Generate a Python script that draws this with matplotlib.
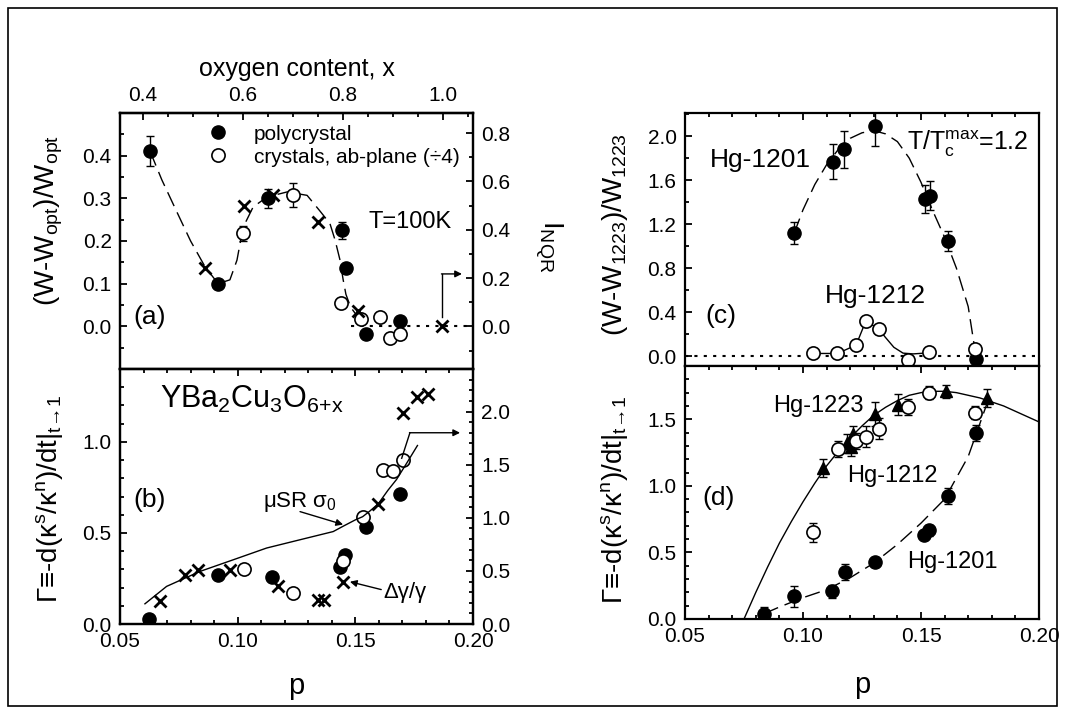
import matplotlib
matplotlib.use('Agg')
import matplotlib.pyplot as plt
from matplotlib.ticker import MultipleLocator, FormatStrFormatter
from matplotlib.lines import Line2D
from matplotlib.patches import Rectangle

plt.rcParams['font.family'] = ['Liberation Sans', 'DejaVu Sans']
plt.rcParams['mathtext.fontset'] = 'custom'
plt.rcParams['mathtext.rm'] = 'Liberation Sans'
plt.rcParams['mathtext.it'] = 'Liberation Sans:italic'
plt.rcParams['mathtext.bf'] = 'Liberation Sans:bold'
plt.rcParams['mathtext.sf'] = 'Liberation Sans'

# ---------------- panel (a) data ----------------
pa_poly = [0.0628, 0.0917, 0.1129, 0.1443, 0.1460, 0.1545, 0.1690]
wa_poly = [0.41, 0.10, 0.30, 0.225, 0.137, -0.018, 0.013]
ea_poly = [0.035, 0.0, 0.022, 0.02, 0.0, 0.0, 0.0]
pa_cry = [0.1023, 0.1235, 0.1439, 0.1523, 0.1605, 0.1648, 0.1690]
wa_cry = [0.218, 0.307, 0.055, 0.017, 0.022, -0.028, -0.018]
ea_cry = [0.018, 0.028, 0.0, 0.0, 0.0, 0.0, 0.0]
pa_nqr = [0.0861, 0.1027, 0.1150, 0.1340, 0.1510, 0.1868]
nqr = [0.24, 0.50, 0.545, 0.43, 0.065, 0.0]
pa_fit = [0.0628, 0.0678, 0.0740, 0.0800, 0.0861, 0.0917, 0.0967, 0.0997, 0.1023,
          0.1066, 0.1125, 0.1210, 0.1295, 0.1350, 0.1392, 0.1414, 0.1435, 0.1448,
          0.1460, 0.1480, 0.1500]
wa_fit = [0.41, 0.343, 0.27, 0.20, 0.14, 0.10, 0.109, 0.155, 0.232,
          0.28, 0.303, 0.315, 0.307, 0.27, 0.241, 0.202, 0.155, 0.11,
          0.075, 0.045, 0.03]
xtop_ticks = [0.4, 0.6, 0.8, 1.0]

# ---------------- panel (b) data ----------------
pb_poly = [0.0625, 0.0918, 0.1145, 0.1435, 0.1456, 0.1544, 0.1690]
gb_poly = [0.027, 0.27, 0.26, 0.315, 0.38, 0.533, 0.716]
pb_cry = [0.1027, 0.1237, 0.1446, 0.1531, 0.1616, 0.1659, 0.1701]
gb_cry = [0.30, 0.17, 0.344, 0.588, 0.848, 0.838, 0.90]
pb_dg = [0.0670, 0.0776, 0.0833, 0.0967, 0.1173, 0.1343, 0.1367, 0.1448,
         0.1597, 0.1701, 0.1764, 0.1808]
dg = [0.213, 0.464, 0.511, 0.511, 0.354, 0.222, 0.222, 0.40,
      1.13, 1.99, 2.14, 2.165]
pb_mu = [0.0606, 0.0698, 0.0840, 0.0982, 0.1123, 0.1265, 0.1406, 0.1448, 0.1500,
         0.1531, 0.1560, 0.1597, 0.1639, 0.1675, 0.1720, 0.1764]
mu = [0.19, 0.354, 0.495, 0.605, 0.715, 0.793, 0.87, 0.92, 0.98,
      1.01, 1.06, 1.13, 1.26, 1.36, 1.52, 1.68]

# ---------------- panel (c) data ----------------
pc_1201 = [0.0963, 0.1126, 0.1174, 0.1305, 0.1517, 0.1538, 0.1616, 0.1735]
wc_1201 = [1.12, 1.766, 1.88, 2.09, 1.427, 1.46, 1.045, -0.027]
ec_1201 = [0.10, 0.16, 0.17, 0.18, 0.13, 0.13, 0.09, 0.0]
pc_1212 = [0.1044, 0.1146, 0.1225, 0.1266, 0.1323, 0.1446, 0.1535, 0.1730]
wc_1212 = [0.024, 0.024, 0.10, 0.318, 0.245, -0.036, 0.039, 0.064]
pc_fit = [0.0963, 0.1000, 0.1050, 0.1100, 0.1150, 0.1200, 0.1250, 0.1300, 0.1350,
          0.1400, 0.1450, 0.1500, 0.1550, 0.1600, 0.1650, 0.1700, 0.1735]
wc_fit = [1.12, 1.33, 1.56, 1.74, 1.88, 1.98, 2.03, 2.05, 2.02,
          1.95, 1.80, 1.58, 1.32, 1.08, 0.80, 0.45, -0.03]
pc_line = [0.1044, 0.1146, 0.1225, 0.1266, 0.1323, 0.1347, 0.1385, 0.1424, 0.1467, 0.1535]
wc_line = [0.024, 0.024, 0.10, 0.318, 0.245, 0.176, 0.08, 0.027, 0.02, 0.03]

# ---------------- panel (d) data ----------------
pd_1223 = [0.1086, 0.1185, 0.1203, 0.1213, 0.1305, 0.1404, 0.1606, 0.1780]
gd_1223 = [1.135, 1.318, 1.293, 1.393, 1.536, 1.61, 1.71, 1.66]
ed_1223 = [0.07, 0.07, 0.07, 0.06, 0.09, 0.08, 0.05, 0.07]
pd_1212 = [0.1044, 0.1147, 0.1225, 0.1266, 0.1323, 0.1446, 0.1535, 0.1730]
gd_1212 = [0.651, 1.28, 1.34, 1.368, 1.43, 1.59, 1.70, 1.55]
ed_1212 = [0.07, 0.06, 0.06, 0.08, 0.08, 0.06, 0.05, 0.05]
pd_1201 = [0.0835, 0.0963, 0.1124, 0.1178, 0.1305, 0.1513, 0.1535, 0.1616, 0.1735]
gd_1201 = [0.037, 0.17, 0.208, 0.353, 0.426, 0.634, 0.666, 0.927, 1.40]
ed_1201 = [0.05, 0.08, 0.05, 0.06, 0.0, 0.0, 0.04, 0.06, 0.06]
pd_fit23 = [0.075, 0.080, 0.085, 0.090, 0.095, 0.100, 0.105, 0.110, 0.115, 0.120,
            0.125, 0.130, 0.135, 0.140, 0.145, 0.150, 0.155, 0.160, 0.165, 0.170,
            0.175, 0.180, 0.185, 0.190, 0.195, 0.200]
gd_fit23 = [0.00, 0.20, 0.39, 0.57, 0.73, 0.88, 1.02, 1.15, 1.26, 1.36,
            1.45, 1.53, 1.59, 1.64, 1.68, 1.70, 1.71, 1.71, 1.70, 1.68,
            1.66, 1.63, 1.60, 1.56, 1.52, 1.48]
pd_fit01 = [0.0835, 0.0900, 0.1000, 0.1100, 0.1200, 0.1300, 0.1400, 0.1500,
            0.1600, 0.1700, 0.1780]
gd_fit01 = [0.04, 0.09, 0.16, 0.22, 0.31, 0.42, 0.56, 0.72, 0.90, 1.22, 1.62]

W, H = 1065, 713
fig = plt.figure(figsize=(W / 100, H / 100), dpi=100)
fig.add_artist(Rectangle((8 / W, 7 / H), 1049 / W, 698 / H, transform=fig.transFigure,
                         fill=False, lw=1.2, ec='k'))


def ax_rect(x0, y_top, x1, y_bot):
    return [x0 / W, (H - y_bot) / H, (x1 - x0) / W, (y_bot - y_top) / H]


axA = fig.add_axes(ax_rect(120, 113, 473, 369))
axB = fig.add_axes(ax_rect(120, 369, 473, 624))
axC = fig.add_axes(ax_rect(685, 113, 1039, 366))
axD = fig.add_axes(ax_rect(685, 366, 1039, 619))

TICK_FS = 15
MS = 9.5
GAMMA_LABEL = r'Γ≡-d(κ$^{\mathrm{s}}$/κ$^{\mathrm{n}}$)/dt|$_{\mathrm{t}\!\rightarrow\!\mathrm{1}}$'


def tickstyle(ax):
    ax.tick_params(which='both', direction='in', width=1.3, labelsize=TICK_FS, pad=6)
    ax.tick_params(which='major', length=5)
    ax.tick_params(which='minor', length=3)


def style(ax, xmaj, xmin, ymaj, ymin, xfmt, yfmt):
    for s in ax.spines.values():
        s.set_linewidth(1.6)
    ax.xaxis.set_major_locator(MultipleLocator(xmaj))
    ax.xaxis.set_minor_locator(MultipleLocator(xmin))
    ax.yaxis.set_major_locator(MultipleLocator(ymaj))
    ax.yaxis.set_minor_locator(MultipleLocator(ymin))
    ax.xaxis.set_major_formatter(FormatStrFormatter(xfmt))
    ax.yaxis.set_major_formatter(FormatStrFormatter(yfmt))
    tickstyle(ax)


def errpts(ax, p, v, e, **kw):
    pe = [a for a, c in zip(p, e) if c > 0]
    ve = [b for b, c in zip(v, e) if c > 0]
    ee = [c for c in e if c > 0]
    if ee:
        ax.errorbar(pe, ve, yerr=ee, fmt='none', ecolor='k', elinewidth=1,
                    capsize=3, capthick=1, zorder=3)
    ax.plot(p, v, linestyle='none', zorder=4, **kw)


filled = dict(marker='o', ms=MS, mfc='k', mec='k')
opened = dict(marker='o', ms=MS, mfc='white', mec='k', mew=1.2)
cross = dict(marker='x', ms=8, mec='k', mew=2)
tri = dict(marker='^', ms=9, mfc='k', mec='k')
DASH = (0, (11, 5))
ARROW = dict(arrowstyle='-|>', lw=1, color='k', mutation_scale=10, shrinkA=0, shrinkB=0)

# ---------------- (a) ----------------
axA.set_xlim(0.05, 0.20)
axA.set_ylim(-0.1, 0.5)
style(axA, 0.05, 0.01, 0.1, 0.05, '%.2f', '%.1f')
axA.set_yticks([0.0, 0.1, 0.2, 0.3, 0.4])
axA.tick_params(axis='x', which='both', bottom=False, top=False, labelbottom=False)
axA.tick_params(axis='y', which='both', right=False)
axA.plot(pa_fit, wa_fit, color='k', lw=1, linestyle=DASH, zorder=2)
axA.plot([0.148, 0.20], [0, 0], color='k', lw=1.5, linestyle=(0, (1.5, 3)), zorder=1)
errpts(axA, pa_poly, wa_poly, ea_poly, **filled)
errpts(axA, pa_cry, wa_cry, ea_cry, **opened)
axA.set_ylabel(r'(W-W$_{\mathrm{opt}}$)/W$_{\mathrm{opt}}$', fontsize=20)
axA.yaxis.set_label_coords(-0.155, 0.58)

axA2 = axA.twinx()
axA2.set_ylim(-0.1765, 0.883)
for s in axA2.spines.values():
    s.set_linewidth(1.6)
axA2.yaxis.set_major_locator(MultipleLocator(0.2))
axA2.yaxis.set_minor_locator(MultipleLocator(0.1))
axA2.set_yticks([0.0, 0.2, 0.4, 0.6, 0.8])
axA2.yaxis.set_major_formatter(FormatStrFormatter('%.1f'))
tickstyle(axA2)
axA2.plot(pa_nqr, nqr, linestyle='none', zorder=4, **cross)
axA2.plot([0.1868, 0.1868], [0.038, 0.217], color='k', lw=1)
axA2.annotate('', xy=(0.1953, 0.217), xytext=(0.1866, 0.217), arrowprops=ARROW)
axA2.text(1.215, 0.48, r'I$_{\mathrm{NQR}}$', transform=axA.transAxes, rotation=-90,
          fontsize=20, ha='center', va='center')

sec = axA.secondary_xaxis('top', functions=(lambda p: 0.4 + (p - 0.0598) / 0.2125,
                                            lambda x: 0.0598 + (x - 0.4) * 0.2125))
sec.set_xticks(xtop_ticks)
sec.xaxis.set_minor_locator(MultipleLocator(0.05))
sec.xaxis.set_major_formatter(FormatStrFormatter('%.1f'))
tickstyle(sec)
sec.spines['top'].set_linewidth(1.6)
sec.set_xlabel('oxygen content, x', fontsize=18, labelpad=7)

axA.legend(handles=[Line2D([], [], linestyle='none', **filled),
                    Line2D([], [], linestyle='none', **opened)],
           labels=['polycrystal', 'crystals, ab-plane (÷4)'],
           loc='upper left', bbox_to_anchor=(0.25, 0.955), frameon=False,
           fontsize=15, handlelength=0.9, handletextpad=1.3, labelspacing=0.2,
           borderpad=0, borderaxespad=0)
axA.text(0.085, 0.203, '(a)', transform=axA.transAxes, fontsize=19, ha='center', va='center')
axA.text(0.822, 0.574, 'T=100K', transform=axA.transAxes, fontsize=17, ha='center', va='center')

# ---------------- (b) ----------------
axB.set_xlim(0.05, 0.20)
axB.set_ylim(0, 1.4)
style(axB, 0.05, 0.01, 0.5, 0.1, '%.2f', '%.1f')
axB.tick_params(axis='x', which='both', top=True)
axB.tick_params(axis='y', which='both', right=False)
errpts(axB, pb_poly, gb_poly, [0] * len(pb_poly), **filled)
errpts(axB, pb_cry, gb_cry, [0] * len(pb_cry), **opened)
axB.set_ylabel(GAMMA_LABEL, fontsize=20)
axB.yaxis.set_label_coords(-0.155, 0.49)
axB.set_xlabel('p', fontsize=21, labelpad=15)

axB2 = axB.twinx()
axB2.set_ylim(0, 2.4)
for s in axB2.spines.values():
    s.set_linewidth(1.6)
axB2.yaxis.set_major_locator(MultipleLocator(0.5))
axB2.yaxis.set_minor_locator(MultipleLocator(0.1))
axB2.yaxis.set_major_formatter(FormatStrFormatter('%.1f'))
tickstyle(axB2)
axB2.plot(pb_mu, mu, color='k', lw=1, zorder=2)
axB2.plot(pb_dg, dg, linestyle='none', zorder=4, **cross)
axB2.plot([0.1697, 0.1732], [1.56, 1.80], color='k', lw=1)
axB2.annotate('', xy=(0.1945, 1.80), xytext=(0.1730, 1.80), arrowprops=ARROW)

axB.text(0.085, 0.486, '(b)', transform=axB.transAxes, fontsize=19, ha='center', va='center')
axB.text(0.113, 0.847, r'YBa$_{\mathregular{2}}$Cu$_{\mathregular{3}}$O$_{\mathregular{6{+}x}}$',
         transform=axB.transAxes, fontsize=22, ha='left', va='baseline')
axB.text(0.1108, 0.64, r'μSR σ$_{\mathregular{0}}$', fontsize=16, ha='left', va='baseline')
axB.annotate('', xy=(0.1448, 0.546), xytext=(0.1265, 0.617), arrowprops=ARROW)
axB.text(0.1618, 0.145, 'Δγ/γ', fontsize=16, ha='left', va='baseline')
axB.annotate('', xy=(0.1477, 0.232), xytext=(0.1610, 0.189), arrowprops=ARROW)

# ---------------- (c) ----------------
axC.set_xlim(0.05, 0.20)
axC.set_ylim(-0.09, 2.21)
style(axC, 0.05, 0.01, 0.4, 0.2, '%.2f', '%.1f')
axC.tick_params(axis='x', which='both', top=True, bottom=False, labelbottom=False)
axC.tick_params(axis='y', which='both', right=False)
axC.plot([0.05, 0.20], [0, 0], color='k', lw=1.5, linestyle=(0, (1.5, 3)), zorder=1)
axC.plot(pc_fit, wc_fit, color='k', lw=1, linestyle=DASH, zorder=2)
axC.plot(pc_line, wc_line, color='k', lw=1, zorder=2)
errpts(axC, pc_1201, wc_1201, ec_1201, **filled)
errpts(axC, pc_1212, wc_1212, [0] * len(pc_1212), **opened)
axC.set_ylabel(r'(W-W$_{1223}$)/W$_{1223}$', fontsize=20)
axC.yaxis.set_label_coords(-0.155, 0.52)
axC.text(0.212, 0.787, 'Hg-1201', transform=axC.transAxes, fontsize=19, ha='center', va='baseline')
axC.text(0.627, 0.854, r'T/T$_{\mathrm{c}}^{\mathrm{max}}$=1.2', transform=axC.transAxes,
         fontsize=18, ha='left', va='baseline')
axC.text(0.537, 0.249, 'Hg-1212', transform=axC.transAxes, fontsize=19, ha='center', va='baseline')
axC.text(0.102, 0.198, '(c)', transform=axC.transAxes, fontsize=19, ha='center', va='center')

# ---------------- (d) ----------------
axD.set_xlim(0.05, 0.20)
axD.set_ylim(0, 1.9)
style(axD, 0.05, 0.01, 0.5, 0.1, '%.2f', '%.1f')
axD.tick_params(axis='x', which='both', top=True)
axD.tick_params(axis='y', which='both', right=False)
axD.plot(pd_fit23, gd_fit23, color='k', lw=1, zorder=2)
axD.plot(pd_fit01, gd_fit01, color='k', lw=1, linestyle=DASH, zorder=2)
errpts(axD, pd_1223, gd_1223, ed_1223, **tri)
errpts(axD, pd_1212, gd_1212, ed_1212, **opened)
errpts(axD, pd_1201, gd_1201, ed_1201, **filled)
axD.set_ylabel(GAMMA_LABEL, fontsize=20)
axD.yaxis.set_label_coords(-0.155, 0.47)
axD.set_xlabel('p', fontsize=21, labelpad=18)
axD.text(0.376, 0.818, 'Hg-1223', transform=axD.transAxes, fontsize=17, ha='center', va='baseline')
axD.text(0.585, 0.542, 'Hg-1212', transform=axD.transAxes, fontsize=17, ha='center', va='baseline')
axD.text(0.754, 0.200, 'Hg-1201', transform=axD.transAxes, fontsize=17, ha='center', va='baseline')
axD.text(0.096, 0.478, '(d)', transform=axD.transAxes, fontsize=19, ha='center', va='center')

fig.savefig('out.png', dpi=100)
